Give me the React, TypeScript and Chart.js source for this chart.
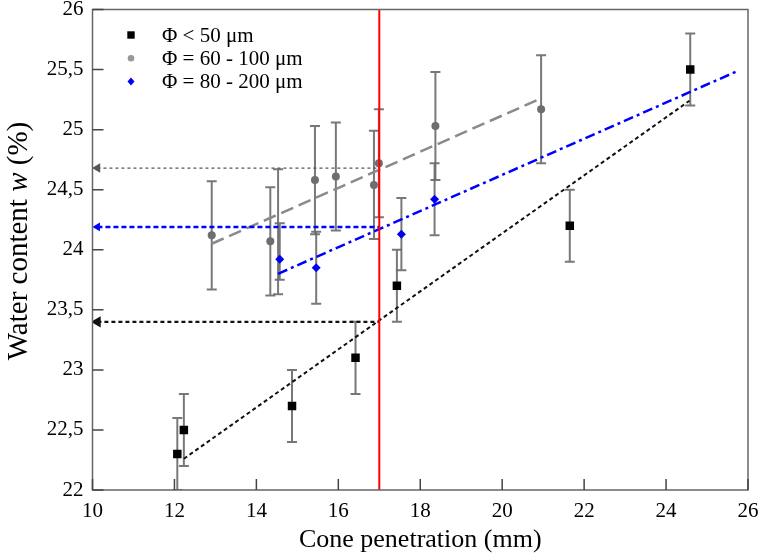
import React, { useEffect, useRef } from 'react';
import { Chart, registerables } from 'chart.js';

Chart.register(...registerables);

// ---- Data ----
const fineLabel = 'Φ < 50 μm';
const fineX = [12.07, 12.23, 14.87, 16.42, 17.43, 21.65, 24.59];
const fineY = [22.3, 22.5, 22.7, 23.1, 23.7, 24.2, 25.5];
const fineErrLow = [0.3, 0.3, 0.3, 0.3, 0.3, 0.3, 0.3];
const fineErrHigh = [0.3, 0.3, 0.3, 0.3, 0.3, 0.3, 0.3];

const midLabel = 'Φ = 60 - 100 μm';
const midX = [12.91, 14.34, 14.53, 15.43, 15.94, 16.87, 16.99, 18.37, 20.95];
const midY = [24.12, 24.07, 24.17, 24.58, 24.61, 24.54, 24.72, 25.03, 25.17];
const midErrLow = [0.45, 0.45, 0.54, 0.45, 0.45, 0.45, 0.45, 0.45, 0.45];
const midErrHigh = [0.45, 0.45, 0.5, 0.45, 0.45, 0.45, 0.45, 0.45, 0.45];
const midHidden = [false, false, true, false, false, false, false, false, false];

const coarseLabel = 'Φ = 80 - 200 μm';
const coarseX = [14.57, 15.46, 17.54, 18.35];
const coarseY = [23.92, 23.85, 24.13, 24.42];
const coarseErrLow = [0.17, 0.3, 0.3, 0.3];
const coarseErrHigh = [0.3, 0.3, 0.3, 0.3];

// linear fits (end points)
const fineFitX = [12.23, 24.57];
const fineFitY = [22.26, 25.24];
const midFitX = [12.91, 20.95];
const midFitY = [24.05, 25.26];
const coarseFitX = [14.53, 25.76];
const coarseFitY = [23.8, 25.49];

// liquid limit (cone penetration 17 mm) and read-off water contents
const liquidLimitX = 17;
const axisStartX = 10.12;
const fineLL = 23.4;
const midLL = 24.68;
const coarseLL = 24.19;

const xMin = 10, xMax = 26, xStep = 2;
const yMin = 22, yMax = 26, yStep = 0.5;

const xTitle = 'Cone penetration (mm)';
const yTitleParts = ['Water content ', 'w', ' (%)'];

const SERIF = '"Liberation Serif", "Times New Roman", serif';

const pts = (xs: number[], ys: number[]) => xs.map((x, i) => ({ x, y: ys[i] }));

const errorBarPlugin = {
  id: 'errorBars',
  beforeDatasetsDraw(chart: any) {
    const { ctx, chartArea, scales } = chart;
    ctx.save();
    ctx.beginPath();
    ctx.rect(chartArea.left, chartArea.top, chartArea.right - chartArea.left, chartArea.bottom - chartArea.top);
    ctx.clip();
    ctx.strokeStyle = 'rgba(105,105,105,0.9)';
    ctx.lineWidth = 2;
    chart.data.datasets.forEach((ds: any) => {
      if (!ds.errLow) return;
      ds.data.forEach((p: any, i: number) => {
        const x = scales.x.getPixelForValue(p.x);
        const yl = scales.y.getPixelForValue(p.y - ds.errLow[i]);
        const yh = scales.y.getPixelForValue(p.y + ds.errHigh[i]);
        ctx.beginPath();
        ctx.moveTo(x, yl);
        ctx.lineTo(x, yh);
        ctx.moveTo(x - 5, yl);
        ctx.lineTo(x + 5, yl);
        ctx.moveTo(x - 5, yh);
        ctx.lineTo(x + 5, yh);
        ctx.stroke();
      });
    });
    ctx.restore();
  },
};

const framePlugin = {
  id: 'frame',
  afterDraw(chart: any) {
    const { ctx, chartArea, scales } = chart;
    const { left, right, top, bottom } = chartArea;
    ctx.save();
    ctx.strokeStyle = '#666';
    ctx.lineWidth = 1.5;
    ctx.strokeRect(left, top, right - left, bottom - top);
    ctx.strokeStyle = '#444';
    ctx.lineWidth = 1.5;
    ctx.beginPath();
    scales.x.ticks.forEach((t: any) => {
      const x = scales.x.getPixelForValue(t.value);
      ctx.moveTo(x, bottom);
      ctx.lineTo(x, bottom - 11);
    });
    scales.y.ticks.forEach((t: any) => {
      const y = scales.y.getPixelForValue(t.value);
      ctx.moveTo(left, y);
      ctx.lineTo(left + 11, y);
    });
    ctx.stroke();

    // y axis title with italic w
    ctx.fillStyle = '#000';
    ctx.textBaseline = 'middle';
    ctx.textAlign = 'left';
    const fonts = [`29px ${SERIF}`, `italic 29px ${SERIF}`, `29px ${SERIF}`];
    let total = 0;
    const widths = yTitleParts.map((s, i) => {
      ctx.font = fonts[i];
      const w = ctx.measureText(s).width;
      total += w;
      return w;
    });
    ctx.translate(19, 241);
    ctx.rotate(-Math.PI / 2);
    let pos = -total / 2;
    yTitleParts.forEach((s, i) => {
      ctx.font = fonts[i];
      ctx.fillText(s, pos, 0);
      pos += widths[i];
    });
    ctx.restore();

    // legend
    ctx.save();
    const items = [
      { label: fineLabel, kind: 'square', color: '#000' },
      { label: midLabel, kind: 'circle', color: '#999' },
      { label: coarseLabel, kind: 'diamond', color: '#0000ff' },
    ];
    ctx.font = `21px ${SERIF}`;
    ctx.textBaseline = 'middle';
    ctx.textAlign = 'left';
    items.forEach((it, i) => {
      const cy = 35 + i * 23.3;
      const cx = 131;
      ctx.fillStyle = it.color;
      ctx.beginPath();
      if (it.kind === 'square') ctx.rect(cx - 3.7, cy - 3.7, 7.4, 7.4);
      else if (it.kind === 'circle') ctx.arc(cx, cy, 3.3, 0, Math.PI * 2);
      else {
        ctx.moveTo(cx, cy - 4);
        ctx.lineTo(cx + 3.5, cy);
        ctx.lineTo(cx, cy + 4);
        ctx.lineTo(cx - 3.5, cy);
        ctx.closePath();
      }
      ctx.fill();
      ctx.fillStyle = '#000';
      ctx.fillText(it.label, 162, cy + 1);
    });
    ctx.restore();
  },
};

export default function App() {
  const ref = useRef<HTMLCanvasElement>(null);
  useEffect(() => {
    if (!ref.current) return;
    const arrowLine = (y: number, color: string, width: number, dash: number[], head: number, order: number) => ({
      type: 'line' as const,
      data: [
        { x: axisStartX, y },
        { x: liquidLimitX, y },
      ],
      borderColor: color,
      backgroundColor: color,
      borderWidth: width,
      borderDash: dash,
      pointStyle: 'triangle',
      rotation: 270,
      pointRadius: [head, 0],
      pointBorderWidth: 0,
      order,
    });
    const chart = new Chart(ref.current, {
      type: 'scatter',
      data: {
        datasets: [
          {
            label: fineLabel,
            data: pts(fineX, fineY),
            errLow: fineErrLow,
            errHigh: fineErrHigh,
            pointStyle: 'rect',
            pointRadius: 6,
            backgroundColor: '#000',
            borderColor: '#000',
            borderWidth: 0,
            order: 1,
          } as any,
          {
            label: midLabel,
            data: pts(midX, midY),
            errLow: midErrLow,
            errHigh: midErrHigh,
            pointStyle: 'circle',
            pointRadius: midHidden.map((h) => (h ? 0 : 4)),
            backgroundColor: '#6e6e6e',
            borderColor: '#6e6e6e',
            borderWidth: 0,
            order: 3,
          } as any,
          {
            label: coarseLabel,
            data: pts(coarseX, coarseY),
            errLow: coarseErrLow,
            errHigh: coarseErrHigh,
            pointStyle: 'rectRot',
            pointRadius: 4.5,
            backgroundColor: '#0000ee',
            borderColor: '#0000ee',
            borderWidth: 0,
            order: 2,
          } as any,
          {
            type: 'line',
            data: pts(fineFitX, fineFitY),
            borderColor: '#111',
            borderWidth: 2,
            borderDash: [4, 3],
            pointRadius: 0,
            order: 6,
          } as any,
          {
            type: 'line',
            data: pts(midFitX, midFitY),
            borderColor: '#8a8a8a',
            borderWidth: 2.5,
            borderDash: [13, 6],
            pointRadius: 0,
            order: 7,
          } as any,
          {
            type: 'line',
            data: pts(coarseFitX, coarseFitY),
            borderColor: '#0000ff',
            borderWidth: 2.5,
            borderDash: [10, 4, 3, 4],
            pointRadius: 0,
            order: 5,
          } as any,
          arrowLine(fineLL, '#111', 2.2, [4, 3], 6.5, 8) as any,
          arrowLine(midLL, '#555', 1.2, [3, 3], 5.5, 9) as any,
          arrowLine(coarseLL, '#0000ff', 2.6, [5, 3], 5, 4) as any,
          {
            type: 'line',
            data: [
              { x: liquidLimitX, y: yMin },
              { x: liquidLimitX, y: yMax },
            ],
            borderColor: '#ff0000',
            borderWidth: 2,
            pointRadius: 0,
            order: 0,
          } as any,
        ],
      },
      options: {
        responsive: false,
        animation: false,
        layout: { padding: { left: 0, right: 14, top: 9.5, bottom: 0 } },
        plugins: {
          legend: { display: false },
          tooltip: { enabled: false },
        },
        scales: {
          x: {
            type: 'linear',
            min: xMin,
            max: xMax,
            grid: { display: false, drawTicks: false },
            border: { display: false },
            ticks: {
              stepSize: xStep,
              color: '#000',
              font: { family: SERIF, size: 21 },
              padding: 9,
              maxRotation: 0,
            },
            title: {
              display: true,
              text: xTitle,
              color: '#000',
              font: { family: SERIF, size: 26 },
              padding: { top: 0, bottom: 2 },
            },
            afterFit(scale: any) {
              scale.height = 68;
              scale.paddingLeft = 0;
              scale.paddingRight = 0;
            },
          },
          y: {
            type: 'linear',
            min: yMin,
            max: yMax,
            grid: { display: false, drawTicks: false },
            border: { display: false },
            ticks: {
              stepSize: yStep,
              color: '#000',
              font: { family: SERIF, size: 21 },
              padding: 9,
              callback: (v: any) => String(v).replace('.', ','),
            },
            afterFit(scale: any) {
              scale.width = 92.5;
              scale.paddingTop = 0;
              scale.paddingBottom = 0;
            },
          },
        },
      },
      plugins: [errorBarPlugin, framePlugin],
    });
    return () => chart.destroy();
  }, []);
  return (
    <div style={{ position: 'fixed', left: 0, top: 0, width: 762, height: 558, background: '#fff' }}>
      <canvas ref={ref} width={762} height={558} style={{ display: 'block' }} />
    </div>
  );
}
